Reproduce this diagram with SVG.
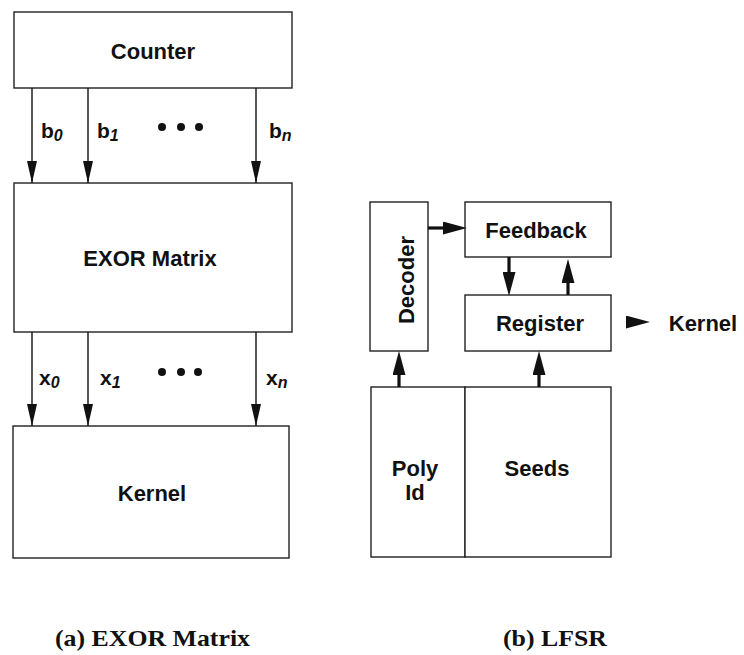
<svg xmlns="http://www.w3.org/2000/svg" width="744" height="655" viewBox="0 0 744 655">
  <defs>
    <!-- slim arrowhead for the bit lines; tip sits on the line end -->
    <marker id="head" viewBox="0 0 10 10" refX="10" refY="5" markerWidth="22" markerHeight="10" markerUnits="userSpaceOnUse" orient="auto" preserveAspectRatio="none">
      <path d="M0,0 L10,5 L0,10 Z" fill="#111"/>
    </marker>
    <!-- heavy arrowhead for the LFSR paths; tip reaches 8px past the line end -->
    <marker id="bold" viewBox="0 0 10 10" refX="6.7" refY="5" markerWidth="24" markerHeight="13" markerUnits="userSpaceOnUse" orient="auto" preserveAspectRatio="none">
      <path d="M0,0 L10,5 L0,10 Z" fill="#111"/>
    </marker>
  </defs>
  <style>
    .box { fill: #fff; stroke: #222; stroke-width: 1.4; }
    .lbl { font-family: "Liberation Sans", Arial, sans-serif; font-weight: bold; font-size: 22px; fill: #111; text-anchor: middle; dominant-baseline: central; }
    .sig { font-family: "Liberation Sans", Arial, sans-serif; font-weight: bold; font-size: 21px; fill: #111; }
    .sub { font-style: italic; font-size: 16px; }
    .cap { font-family: "Liberation Serif", "Times New Roman", serif; font-weight: bold; font-size: 23px; fill: #111; }
    .thin { stroke: #111; stroke-width: 1.4; fill: none; marker-end: url(#head); }
    .thick { stroke: #111; stroke-width: 3.2; fill: none; marker-end: url(#bold); }
    .dot { fill: #111; }
  </style>
  <rect width="744" height="655" fill="#fff"/>

  <!-- (a) EXOR matrix generator -->
  <g id="counter">
    <rect class="box" x="14" y="12" width="278" height="76"/>
    <text class="lbl" x="153" y="51">Counter</text>
  </g>
  <g id="exor-matrix">
    <rect class="box" x="14" y="183" width="278" height="149"/>
    <text class="lbl" x="150" y="258">EXOR Matrix</text>
  </g>
  <g id="kernel-a">
    <rect class="box" x="13" y="426" width="276" height="132"/>
    <text class="lbl" x="152" y="493">Kernel</text>
  </g>

  <!-- (b) LFSR -->
  <g id="decoder">
    <rect class="box" x="370" y="202" width="58" height="149"/>
    <text class="lbl" transform="translate(406,280) rotate(-90)">Decoder</text>
  </g>
  <g id="feedback">
    <rect class="box" x="465" y="202" width="146" height="55"/>
    <text class="lbl" x="536" y="230">Feedback</text>
  </g>
  <g id="register">
    <rect class="box" x="465" y="295" width="146" height="56"/>
    <text class="lbl" x="540" y="323">Register</text>
  </g>
  <g id="poly-id">
    <rect class="box" x="371" y="387" width="94" height="170"/>
    <text class="lbl" x="415" y="468">Poly</text>
    <text class="lbl" x="415" y="492">Id</text>
  </g>
  <g id="seeds">
    <rect class="box" x="465" y="387" width="146" height="170"/>
    <text class="lbl" x="537" y="468">Seeds</text>
  </g>
  <g id="kernel-b">
    <text class="lbl" x="703" y="323">Kernel</text>
  </g>

  <g id="connectors">
    <!-- counter bits into the matrix -->
    <line class="thin" x1="32" y1="88" x2="32" y2="183"/>
    <line class="thin" x1="88" y1="88" x2="88" y2="183"/>
    <line class="thin" x1="256" y1="88" x2="256" y2="183"/>
    <!-- matrix outputs into the kernel -->
    <line class="thin" x1="32" y1="332" x2="32" y2="426"/>
    <line class="thin" x1="88" y1="332" x2="88" y2="426"/>
    <line class="thin" x1="256" y1="332" x2="256" y2="426"/>
    <!-- LFSR data paths (line ends 8px short of each tip) -->
    <line class="thick" x1="428" y1="228" x2="459" y2="228"/>
    <line class="thick" x1="509" y1="257" x2="509" y2="288"/>
    <line class="thick" x1="568" y1="295" x2="568" y2="267"/>
    <line class="thick" x1="399" y1="387" x2="399" y2="359"/>
    <line class="thick" x1="539" y1="387" x2="539" y2="359"/>
    <line class="thick" x1="626" y1="322" x2="642" y2="322"/>
  </g>

  <!-- bit labels -->
  <text class="sig" x="41" y="138">b<tspan class="sub" dy="3">0</tspan></text>
  <text class="sig" x="97" y="138">b<tspan class="sub" dy="3">1</tspan></text>
  <text class="sig" x="269" y="138">b<tspan class="sub" dy="3">n</tspan></text>
  <circle class="dot" cx="162" cy="127" r="4"/>
  <circle class="dot" cx="181" cy="127" r="4"/>
  <circle class="dot" cx="199" cy="127" r="4"/>

  <text class="sig" x="39" y="385">x<tspan class="sub" dy="3">0</tspan></text>
  <text class="sig" x="100" y="385">x<tspan class="sub" dy="3">1</tspan></text>
  <text class="sig" x="266" y="385">x<tspan class="sub" dy="3">n</tspan></text>
  <circle class="dot" cx="162" cy="372" r="4"/>
  <circle class="dot" cx="181" cy="372" r="4"/>
  <circle class="dot" cx="198" cy="372" r="4"/>

  <!-- captions -->
  <text class="cap" x="55" y="646" textLength="195" lengthAdjust="spacingAndGlyphs">(a) EXOR Matrix</text>
  <text class="cap" x="503" y="646" textLength="104" lengthAdjust="spacingAndGlyphs">(b) LFSR</text>
</svg>
